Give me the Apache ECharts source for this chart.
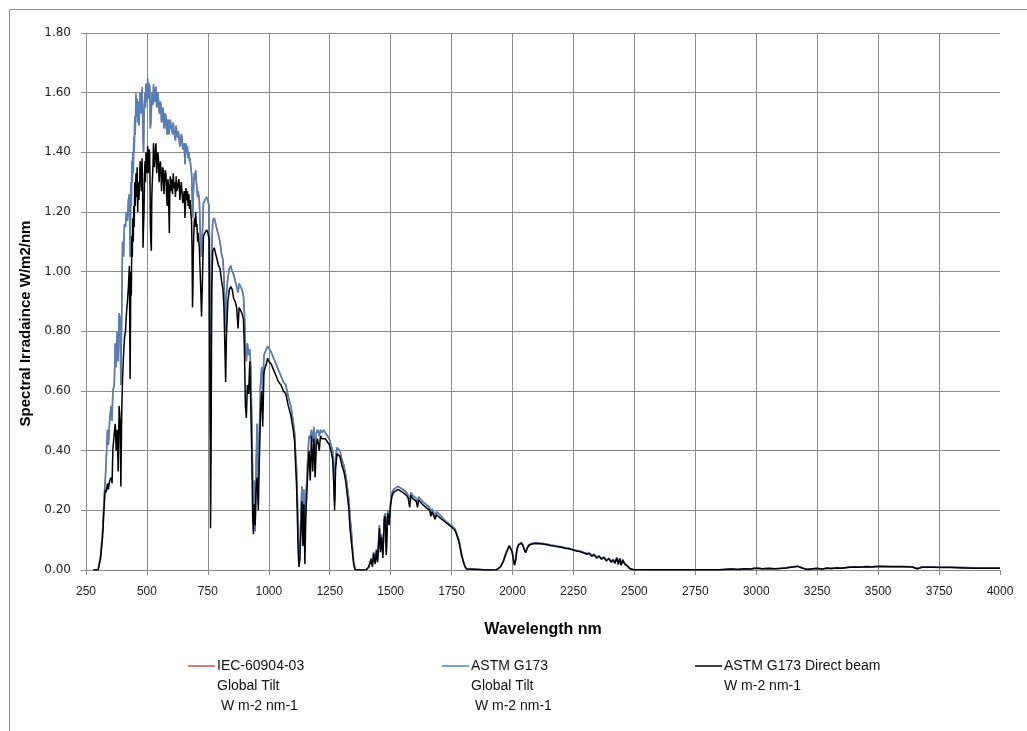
<!DOCTYPE html>
<html>
<head>
<meta charset="utf-8">
<script src="https://cdn.jsdelivr.net/npm/echarts@6/dist/echarts.min.js"></script>
<style>
html,body{margin:0;padding:0;background:#fff;}
#chart{width:1027px;height:731px;}
</style>
</head>
<body>
<div id="chart"></div>
<script>
// Wavelength samples (nm)
const wavelengths = [
  280,300,305,310,318,325,329,333,338,342,
  347,353,357,360,366,370,374,378,382,386,
  390,393,397,400,404,408,412,416,420,424,
  428,431,434,436,438,440,442,444,446,448,
  450,452,455,457,460,462,465,467,470,472,
  475,477,480,482,484,486,488,490,492,494,
  496,498,500,502,503,505,507,509,511,513,
  514,516,518,520,522,525,527,530,532,535,
  537,540,542,545,547,550,552,555,557,560,
  562,565,567,570,572,575,578,580,583,586,
  588,590,592,594,596,599,602,605,608,611,
  614,617,620,623,626,629,632,635,638,641,
  644,647,650,653,656,658,660,663,666,669,
  672,675,677,680,683,685,687,689,690,692,
  695,698,700,703,705,708,710,
  715,720,724,728,732,738,745,750,755,759,
  761,763,766,770,776,782,788,794,800,806,
  812,816,820,823,826,832,838,844,850,856,
  862,868,874,878,884,890,896,900,904,908,
  912,917,922,926,930,934,937,940,944,948,
  952,957,961,966,971,975,980,985,990,995,
  1000,1010,1020,1030,1040,1050,1060,1070,1080,1090,
  1100,1106,1110,1114,1118,1121,1124,1128,1132,1136,
  1140,1144,1148,1152,1156,1160,1165,1170,1175,1180,
  1185,1190,1195,1200,1207,1212,1218,1225,1232,1240,
  1248,1255,1262,1267,1270,1274,1280,1286,1292,1300,
  1308,1315,1322,1328,1333,1338,1343,1348,1354,1380,
  1400,1410,1420,1425,1430,1436,1442,1446,1450,1454,
  1458,1463,1468,1474,1478,1482,1488,1494,1500,1506,
  1512,1520,1530,1540,1550,1558,1565,1572,1578,1583,
  1590,1598,1605,1610,1615,1622,1630,1638,1645,1652,
  1660,1665,1670,1676,1682,1688,1695,1702,1710,1718,
  1725,1732,1740,1748,1755,1762,1768,1774,1780,1786,
  1792,1798,1805,1812,1820,1900,1935,1950,1962,1972,
  1980,1986,1993,1998,2003,2008,2013,2018,2024,2030,
  2036,2042,2048,2054,2060,2068,2080,2095,2110,2125,
  2140,2155,2170,2185,2200,2215,2230,2245,2260,2275,
  2290,2305,2315,2325,2335,2345,2355,2365,2375,2385,
  2395,2405,2413,2420,2428,2434,2440,2446,2452,2460,
  2470,2480,2490,2500,2600,2700,2850,2900,2925,2950,
  2975,3000,3025,3050,3075,3100,3125,3150,3170,3190,
  3210,3230,3250,3270,3290,3310,3330,3350,3375,3400,
  3425,3450,3475,3500,3550,3600,3640,3660,3680,3720,
  3760,3800,3850,3900,3950,4000
];

// IEC-60904-03 Global Tilt (W m-2 nm-1)
const iecGlobalTilt = [
  0,0.001,0.005,0.05,0.13,0.25,0.30,0.37,0.47,0.42,
  0.50,0.55,0.50,0.60,0.62,0.76,0.68,0.80,0.70,0.86,
  0.84,0.62,0.90,1.10,1.05,1.16,1.15,1.20,1.17,1.24,
  1.26,1.05,1.30,1.22,1.37,1.30,1.40,1.33,1.45,1.40,
  1.52,1.46,1.59,1.52,1.58,1.50,1.57,1.49,1.54,1.60,
  1.60,1.53,1.61,1.55,1.46,1.40,1.52,1.56,1.60,1.55,
  1.63,1.58,1.57,1.61,1.64,1.58,1.59,1.63,1.62,1.55,
  1.48,1.50,1.54,1.58,1.60,1.56,1.62,1.58,1.57,1.61,
  1.62,1.55,1.56,1.60,1.58,1.54,1.53,1.57,1.56,1.50,
  1.51,1.55,1.54,1.48,1.49,1.53,1.52,1.48,1.46,1.51,
  1.50,1.46,1.47,1.50,1.51,1.48,1.49,1.46,1.50,1.47,
  1.47,1.44,1.49,1.46,1.45,1.47,1.47,1.42,1.43,1.46,
  1.45,1.41,1.41,1.43,1.36,1.39,1.43,1.40,1.42,1.38,
  1.40,1.37,1.38,1.35,1.33,1.28,1.18,1.20,1.25,1.30,
  1.33,1.31,1.34,1.30,1.30,1.25,1.27,
  1.24,1.10,1.05,1.14,1.23,1.24,1.25,1.24,1.22,0.85,
  0.45,0.70,1.08,1.17,1.18,1.16,1.14,1.12,1.10,1.06,
  1.04,0.98,0.88,0.80,0.92,0.98,1.01,1.02,1.00,0.99,
  0.97,0.95,0.93,0.96,0.95,0.94,0.92,0.86,0.76,0.70,
  0.76,0.72,0.74,0.68,0.52,0.30,0.15,0.30,0.13,0.35,
  0.49,0.30,0.45,0.62,0.68,0.60,0.72,0.73,0.74,0.75,
  0.75,0.73,0.71,0.69,0.67,0.65,0.63,0.62,0.58,0.55,
  0.50,0.46,0.39,0.34,0.22,0.10,0.05,0.08,0.20,0.28,
  0.15,0.27,0.10,0.24,0.30,0.38,0.45,0.44,0.47,0.43,
  0.48,0.36,0.46,0.47,0.45,0.47,0.46,0.47,0.46,0.45,
  0.44,0.42,0.40,0.33,0.23,0.38,0.41,0.41,0.40,0.37,
  0.35,0.32,0.28,0.24,0.18,0.14,0.08,0.03,0.002,0,
  0.001,0.01,0.04,0.02,0.06,0.03,0.07,0.03,0.09,0.15,
  0.07,0.12,0.05,0.18,0.19,0.06,0.20,0.16,0.23,0.26,
  0.27,0.275,0.28,0.275,0.27,0.27,0.26,0.25,0.23,0.26,
  0.25,0.255,0.24,0.22,0.245,0.24,0.23,0.225,0.22,0.215,
  0.21,0.19,0.205,0.20,0.18,0.195,0.19,0.185,0.18,0.17,
  0.165,0.16,0.155,0.15,0.145,0.14,0.13,0.115,0.10,0.075,
  0.05,0.03,0.012,0.004,0.001,0,0.001,0.01,0.03,0.055,
  0.07,0.082,0.084,0.065,0.04,0.018,0.035,0.07,0.085,0.09,
  0.092,0.085,0.07,0.06,0.075,0.085,0.089,0.091,0.09,0.089,
  0.087,0.084,0.082,0.08,0.078,0.075,0.073,0.07,0.066,0.064,
  0.06,0.055,0.057,0.048,0.053,0.042,0.048,0.038,0.044,0.032,
  0.04,0.028,0.036,0.024,0.042,0.02,0.04,0.018,0.035,0.022,
  0.015,0.006,0.003,0.002,0.001,0.001,0.001,0.003,0.002,0.004,
  0.003,0.007,0.004,0.006,0.004,0.006,0.008,0.011,0.013,0.007,
  0.002,0.004,0.006,0.003,0.007,0.005,0.008,0.006,0.009,0.011,
  0.01,0.012,0.011,0.013,0.012,0.012,0.011,0.004,0.01,0.01,
  0.009,0.009,0.008,0.007,0.007,0.007
];

// ASTM G173 Global Tilt (W m-2 nm-1)
const astmGlobalTilt = [
  0,0.001,0.005,0.05,0.13,0.25,0.30,0.37,0.47,0.42,
  0.50,0.55,0.50,0.60,0.62,0.76,0.68,0.80,0.70,0.86,
  0.84,0.62,0.90,1.10,1.05,1.16,1.15,1.20,1.17,1.24,
  1.26,1.05,1.30,1.22,1.37,1.30,1.40,1.33,1.45,1.40,
  1.52,1.46,1.60,1.52,1.58,1.50,1.57,1.49,1.54,1.60,
  1.60,1.53,1.62,1.55,1.46,1.40,1.52,1.56,1.60,1.55,
  1.63,1.58,1.57,1.61,1.65,1.58,1.59,1.63,1.62,1.55,
  1.48,1.50,1.54,1.58,1.60,1.56,1.63,1.58,1.57,1.61,
  1.62,1.55,1.56,1.60,1.58,1.54,1.53,1.57,1.56,1.50,
  1.51,1.55,1.54,1.48,1.49,1.53,1.52,1.48,1.46,1.51,
  1.50,1.46,1.47,1.50,1.51,1.48,1.49,1.46,1.50,1.47,
  1.47,1.44,1.49,1.46,1.45,1.47,1.47,1.42,1.43,1.46,
  1.45,1.41,1.41,1.43,1.36,1.39,1.43,1.40,1.42,1.38,
  1.40,1.37,1.38,1.35,1.33,1.28,1.18,1.20,1.25,1.30,
  1.33,1.31,1.34,1.30,1.30,1.25,1.27,
  1.24,1.10,1.05,1.14,1.23,1.24,1.25,1.24,1.22,0.85,
  0.45,0.70,1.08,1.17,1.18,1.16,1.14,1.12,1.10,1.06,
  1.04,0.98,0.88,0.80,0.92,0.98,1.01,1.02,1.00,0.99,
  0.97,0.95,0.93,0.96,0.95,0.94,0.92,0.86,0.76,0.70,
  0.76,0.72,0.74,0.68,0.52,0.30,0.15,0.30,0.13,0.35,
  0.49,0.30,0.45,0.62,0.68,0.60,0.72,0.73,0.74,0.75,
  0.75,0.73,0.71,0.69,0.67,0.65,0.63,0.62,0.58,0.55,
  0.50,0.46,0.39,0.34,0.22,0.10,0.05,0.08,0.20,0.28,
  0.15,0.27,0.10,0.24,0.30,0.38,0.45,0.44,0.47,0.43,
  0.48,0.36,0.46,0.47,0.45,0.47,0.46,0.47,0.46,0.45,
  0.44,0.42,0.40,0.33,0.23,0.38,0.41,0.41,0.40,0.37,
  0.35,0.32,0.28,0.24,0.18,0.14,0.08,0.03,0.002,0,
  0.001,0.01,0.04,0.02,0.06,0.03,0.07,0.03,0.09,0.15,
  0.07,0.12,0.05,0.18,0.19,0.06,0.20,0.16,0.23,0.26,
  0.27,0.275,0.28,0.275,0.27,0.27,0.26,0.25,0.23,0.26,
  0.25,0.255,0.24,0.22,0.245,0.24,0.23,0.225,0.22,0.215,
  0.21,0.19,0.205,0.20,0.18,0.195,0.19,0.185,0.18,0.17,
  0.165,0.16,0.155,0.15,0.145,0.14,0.13,0.115,0.10,0.075,
  0.05,0.03,0.012,0.004,0.001,0,0.001,0.01,0.03,0.055,
  0.07,0.082,0.084,0.065,0.04,0.018,0.035,0.07,0.085,0.09,
  0.092,0.085,0.07,0.06,0.075,0.085,0.089,0.091,0.09,0.089,
  0.087,0.084,0.082,0.08,0.078,0.075,0.073,0.07,0.066,0.064,
  0.06,0.055,0.057,0.048,0.053,0.042,0.048,0.038,0.044,0.032,
  0.04,0.028,0.036,0.024,0.042,0.02,0.04,0.018,0.035,0.022,
  0.015,0.006,0.003,0.002,0.001,0.001,0.001,0.003,0.002,0.004,
  0.003,0.007,0.004,0.006,0.004,0.006,0.008,0.011,0.013,0.007,
  0.002,0.004,0.006,0.003,0.007,0.005,0.008,0.006,0.009,0.011,
  0.01,0.012,0.011,0.013,0.012,0.012,0.011,0.004,0.01,0.01,
  0.009,0.009,0.008,0.007,0.007,0.007
];

// ASTM G173 Direct beam (W m-2 nm-1)
const astmDirect = [
  0,0.001,0.004,0.04,0.11,0.22,0.27,0.26,0.29,0.27,
  0.30,0.31,0.29,0.40,0.46,0.49,0.40,0.47,0.33,0.55,
  0.50,0.28,0.55,0.64,0.72,0.78,0.80,0.86,0.90,0.95,
  1.02,0.64,1.00,0.92,1.12,1.05,1.18,1.10,1.22,1.15,
  1.30,1.22,1.33,1.25,1.35,1.20,1.30,1.24,1.30,1.37,
  1.36,1.27,1.38,1.30,1.08,1.15,1.20,1.32,1.37,1.30,
  1.40,1.33,1.34,1.38,1.42,1.33,1.37,1.41,1.40,1.28,
  1.16,1.10,1.07,1.25,1.30,1.36,1.43,1.35,1.37,1.41,
  1.43,1.33,1.36,1.40,1.38,1.30,1.34,1.37,1.35,1.27,
  1.31,1.35,1.34,1.26,1.30,1.34,1.33,1.27,1.22,1.31,
  1.29,1.20,1.13,1.28,1.32,1.27,1.31,1.26,1.33,1.28,
  1.30,1.25,1.32,1.27,1.28,1.30,1.31,1.24,1.27,1.30,
  1.30,1.23,1.25,1.27,1.18,1.22,1.28,1.24,1.27,1.22,
  1.26,1.21,1.24,1.20,1.17,1.08,0.88,0.95,1.05,1.12,
  1.18,1.15,1.20,1.15,1.16,1.10,1.13,
  1.08,0.96,0.85,0.98,1.12,1.13,1.14,1.13,1.11,0.55,
  0.14,0.38,0.95,1.07,1.08,1.06,1.04,1.02,1.01,0.97,
  0.94,0.88,0.74,0.63,0.78,0.90,0.94,0.95,0.94,0.91,
  0.90,0.88,0.81,0.88,0.87,0.86,0.84,0.74,0.55,0.51,
  0.62,0.59,0.70,0.55,0.40,0.17,0.12,0.22,0.15,0.28,
  0.31,0.20,0.36,0.53,0.60,0.48,0.66,0.68,0.69,0.71,
  0.70,0.69,0.67,0.65,0.63,0.62,0.60,0.59,0.55,0.52,
  0.47,0.43,0.35,0.28,0.15,0.05,0.01,0.04,0.14,0.23,
  0.08,0.22,0.02,0.18,0.26,0.33,0.40,0.30,0.45,0.33,
  0.44,0.31,0.42,0.44,0.40,0.45,0.44,0.44,0.44,0.43,
  0.42,0.40,0.37,0.28,0.20,0.34,0.39,0.39,0.38,0.35,
  0.33,0.30,0.25,0.21,0.14,0.10,0.06,0.02,0.001,0,
  0.001,0.01,0.035,0.01,0.055,0.02,0.065,0.025,0.08,0.14,
  0.06,0.11,0.04,0.17,0.18,0.05,0.19,0.15,0.22,0.25,
  0.26,0.265,0.27,0.265,0.26,0.26,0.25,0.24,0.21,0.25,
  0.24,0.245,0.23,0.21,0.235,0.23,0.22,0.215,0.21,0.205,
  0.20,0.18,0.195,0.19,0.17,0.185,0.18,0.175,0.17,0.165,
  0.16,0.155,0.15,0.145,0.14,0.135,0.125,0.11,0.095,0.07,
  0.045,0.028,0.011,0.003,0.001,0,0.001,0.01,0.028,0.052,
  0.068,0.08,0.082,0.062,0.038,0.016,0.033,0.068,0.083,0.088,
  0.09,0.083,0.068,0.058,0.073,0.083,0.087,0.089,0.088,0.087,
  0.085,0.082,0.08,0.078,0.076,0.073,0.071,0.068,0.064,0.062,
  0.058,0.053,0.055,0.046,0.051,0.04,0.046,0.036,0.042,0.03,
  0.038,0.026,0.034,0.022,0.04,0.018,0.038,0.016,0.033,0.02,
  0.014,0.005,0.002,0.001,0.001,0.001,0.001,0.003,0.002,0.004,
  0.003,0.006,0.004,0.005,0.004,0.005,0.007,0.01,0.012,0.006,
  0.002,0.004,0.005,0.003,0.006,0.005,0.007,0.006,0.008,0.01,
  0.009,0.011,0.01,0.012,0.011,0.011,0.01,0.004,0.009,0.009,
  0.008,0.008,0.007,0.006,0.006,0.006
];

const seriesNames = [
  'IEC-60904-03\nGlobal Tilt\n W m-2 nm-1',
  'ASTM G173\nGlobal Tilt\n W m-2 nm-1',
  'ASTM G173 Direct beam\nW m-2 nm-1'
];
const seriesColors = ['#C0504D', '#4F81BD', '#000000'];
const seriesValues = [iecGlobalTilt, astmGlobalTilt, astmDirect];

seriesValues.forEach(function (arr, i) {
  if (arr.length !== wavelengths.length) {
    throw new Error('length mismatch in series ' + i + ': ' + arr.length + ' vs ' + wavelengths.length);
  }
});

const legendLeft = [188, 442, 695];
const legendLineY = 666;

const chart = echarts.init(document.getElementById('chart'), null, {renderer: 'canvas'});
const gridColor = '#8c8c8c';

const legendGraphics = [];
seriesNames.forEach(function (name, i) {
  legendGraphics.push({
    type: 'line', silent: true,
    shape: {x1: legendLeft[i], y1: legendLineY, x2: legendLeft[i] + 27, y2: legendLineY},
    style: {stroke: seriesColors[i], lineWidth: 1.5}
  });
  legendGraphics.push({
    type: 'text', silent: true, x: legendLeft[i] + 29, y: legendLineY - 10,
    style: {text: name, fill: '#111', fontFamily: 'Liberation Sans', fontSize: 14,
      lineHeight: 20, align: 'left', verticalAlign: 'top'}
  });
});
legendGraphics.push({
  type: 'rect', left: 7, top: 7, silent: true,
  shape: {x: 0, y: 0, width: 1040, height: 740},
  style: {fill: 'none', stroke: '#8c8c8c', lineWidth: 1}
});

chart.setOption({
  animation: false,
  backgroundColor: '#ffffff',
  grid: {left: 86, right: 27, top: 33, bottom: 161, containLabel: false, outerBoundsMode: 'none'},
  xAxis: {
    type: 'value', min: 250, max: 4000, interval: 250,
    name: 'Wavelength nm', nameLocation: 'middle', nameGap: 52,
    nameTextStyle: {fontFamily: 'Liberation Sans', fontWeight: 'bold', fontSize: 16, color: '#000'},
    axisLine: {show: true, lineStyle: {color: gridColor, width: 1}},
    axisTick: {show: true, length: 5, lineStyle: {color: gridColor}},
    axisLabel: {fontFamily: 'Liberation Sans', fontSize: 12, color: '#222', margin: 16,
      formatter: function (v) { return String(v); }},
    splitLine: {show: true, showMaxLine: false, lineStyle: {color: gridColor, width: 1}}
  },
  yAxis: {
    type: 'value', min: 0, max: 1.8, interval: 0.2,
    name: 'Spectral Irradaince W/m2/nm', nameLocation: 'middle', nameGap: 50, nameRotate: 90,
    nameTextStyle: {fontFamily: 'Liberation Sans', fontWeight: 'bold', fontSize: 15, color: '#000', padding: [0, 44, 0, 0]},
    axisLine: {show: true, lineStyle: {color: gridColor, width: 1}},
    axisTick: {show: true, length: 5, lineStyle: {color: gridColor}},
    axisLabel: {fontFamily: 'DejaVu Sans', fontSize: 12, color: '#222', margin: 15,
      formatter: function (v) { return v.toFixed(2); }},
    splitLine: {show: true, lineStyle: {color: gridColor, width: 1}}
  },
  legend: {show: false, data: seriesNames},
  series: seriesNames.map(function (name, i) {
    return {
      name: name, type: 'line', showSymbol: false, symbol: 'none',
      color: seriesColors[i],
      lineStyle: {color: seriesColors[i], width: 1.5},
      data: wavelengths.map(function (w, k) { return [w, seriesValues[i][k]]; })
    };
  }),
  graphic: legendGraphics
});
</script>
</body>
</html>
